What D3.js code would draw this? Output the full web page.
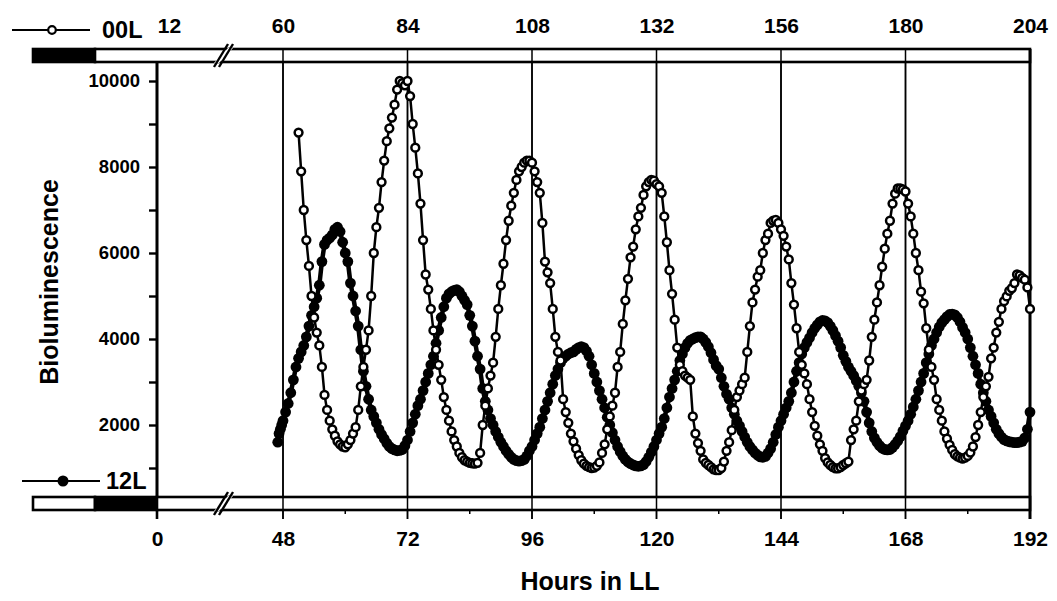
<!DOCTYPE html>
<html>
<head>
<meta charset="utf-8">
<script src="https://cdn.jsdelivr.net/npm/d3@7"></script>
<style>
  body { margin: 0; background: #fff; }
  svg { display: block; }
  text { font-family: "Liberation Sans", Arial, Helvetica, sans-serif; fill: #000; }
</style>
</head>
<body>
<svg id="chart"></svg>
<script>
const width = 1057;
const height = 601;

// sampling: one reading every half hour
const stepHours = 0.5;
const openStart = 51;   // 00L, open circles
const filledStart = 46; // 12L, filled circles

// 00L bioluminescence, t = 51 .. 192 (10 values = 5 h per row)
const openValues = [
  8800, 7900, 7000, 6300, 5700, 5000, 4500, 4150, 3850, 3350,
  2700, 2350, 2100, 1900, 1750, 1620, 1550, 1500, 1480, 1550,
  1650, 1800, 1950, 2350, 2900, 3350, 3750, 4200, 5000, 6000,
  6600, 7050, 7650, 8150, 8600, 8900, 9150, 9450, 9800, 10000,
  9950, 9900, 10000, 9650, 9000, 8450, 7850, 7150, 6300, 5500,
  5150, 4700, 4200, 3750, 3400, 3050, 2650, 2350, 2100, 1850,
  1650, 1500, 1350, 1250, 1180, 1150, 1120, 1110, 1100, 1120,
  1350, 2000, 2450, 2850, 3150, 3450, 4050, 4700, 5250, 5750,
  6300, 6750, 7100, 7400, 7700, 7900, 8000, 8100, 8150, 8150,
  8100, 7900, 7650, 7400, 6700, 5800, 5550, 5300, 4700, 4050,
  3700, 3500, 2600, 2300, 2050, 1800, 1620, 1450, 1300, 1180,
  1100, 1050, 1020, 1000, 1010, 1050, 1130, 1350, 1550, 1900,
  2200, 2450, 2750, 3350, 3700, 4350, 4900, 5400, 5900, 6150,
  6550, 6850, 7050, 7350, 7550, 7650, 7700, 7680, 7600, 7550,
  7400, 6850, 6250, 5600, 5050, 4450, 3800, 3400, 3250, 3150,
  3100, 3050, 2200, 1800, 1580, 1400, 1200, 1120, 1070, 1020,
  970, 950, 950, 1000, 1150, 1400, 1600, 1880, 2350, 2650,
  2800, 2950, 3100, 3700, 4300, 4850, 5150, 5450, 5600, 6000,
  6300, 6450, 6700, 6750, 6770, 6700, 6550, 6400, 6150, 5850,
  5300, 4800, 4250, 3700, 3400, 3200, 2950, 2600, 2300, 1980,
  1750, 1550, 1400, 1230, 1130, 1070, 1020, 990, 990, 1020,
  1070, 1110, 1150, 1650, 1900, 2100, 2550, 2800, 2950, 3050,
  3500, 4050, 4450, 4850, 5250, 5680, 6100, 6450, 6750, 7150,
  7380, 7500, 7500, 7480, 7430, 7150, 6850, 6450, 6000, 5600,
  5100, 4830, 4250, 3750, 3350, 3050, 2600, 2350, 2100, 1850,
  1680, 1540, 1420, 1320, 1270, 1240, 1220, 1240, 1280, 1360,
  1500, 1720, 2000, 2300, 2650, 2900, 3120, 3550, 3800, 4150,
  4400, 4700, 4880, 4990, 5120, 5180, 5300, 5500, 5480, 5420,
  5380, 5200, 4700
];

// 12L bioluminescence, t = 46 .. 192
const filledValues = [
  1600, 1800, 1900, 2000, 2100, 2300, 2500, 2750, 3050, 3350,
  3550, 3700, 3850, 4050, 4300, 4550, 4750, 4950, 5250, 5800,
  6200, 6300, 6350, 6420, 6550, 6600, 6500, 6250, 6000, 5800,
  5300, 5000, 4650, 4300, 3750, 3250, 2900, 2600, 2350, 2200,
  2050, 1900, 1780, 1680, 1580, 1500, 1450, 1420, 1400, 1410,
  1430, 1520, 1650, 1850, 2050, 2250, 2450, 2600, 2800, 3000,
  3200, 3400, 3600, 3900, 4200, 4500, 4750, 4950, 5050, 5100,
  5130, 5150, 5100, 5000, 4900, 4800, 4550, 4300, 3950, 3600,
  3300, 2850, 2550, 2350, 2150, 2000, 1850, 1720, 1600, 1500,
  1400, 1320, 1250, 1200, 1170, 1160, 1170, 1200, 1280, 1400,
  1500, 1650, 1800, 1950, 2150, 2350, 2550, 2750, 2950, 3150,
  3300, 3450, 3550, 3600, 3650, 3680, 3700, 3760, 3800, 3820,
  3800, 3720, 3600, 3400, 3200, 3000, 2800, 2600, 2400, 2180,
  2000, 1820, 1650, 1500, 1380, 1280, 1200, 1140, 1100, 1070,
  1050, 1040, 1050, 1080, 1150, 1250, 1370, 1500, 1650, 1800,
  1950, 2150, 2400, 2650, 2850, 3050, 3250, 3500, 3650, 3800,
  3900, 3970, 4000, 4030, 4050, 4050, 4000, 3920, 3820, 3680,
  3520, 3380, 3300, 3100, 2900, 2720, 2600, 2400, 2250, 2100,
  1980, 1850, 1720, 1600, 1500, 1420, 1350, 1300, 1260, 1250,
  1270, 1350, 1450, 1600, 1780, 1950, 2100, 2250, 2400, 2550,
  2750, 3000, 3250, 3450, 3650, 3800, 3920, 4030, 4150, 4250,
  4330, 4400, 4430, 4420, 4380, 4300, 4200, 4080, 3950, 3800,
  3620, 3480, 3350, 3250, 3150, 3030, 2900, 2750, 2550, 2300,
  2050, 1850, 1700, 1600, 1520, 1460, 1430, 1420, 1430, 1480,
  1550, 1630, 1730, 1860, 1980, 2100, 2250, 2420, 2600, 2800,
  3000, 3200, 3450, 3650, 3850, 4000, 4150, 4280, 4380, 4450,
  4520, 4570, 4580, 4560, 4500, 4400, 4270, 4150, 4000, 3800,
  3600, 3400, 3200, 2950, 2750, 2550, 2350, 2200, 2050, 1900,
  1800, 1720, 1660, 1630, 1610, 1600, 1590, 1590, 1600, 1620,
  1700, 1900, 2300
];

const bottomTicks = [0, 48, 72, 96, 120, 144, 168, 192];
const minorTicks = [60, 84, 108, 132, 156, 180];
const topOffset = 12; // top scale reads bottom + 12 h
const yTicks = [1000, 2000, 3000, 4000, 5000, 6000, 7000, 8000, 9000, 10000];
const yLabelEvery = 2000;

// light/dark bars in hours (bottom scale): [start, end, dark?]
const topBar = [[-24, -12, true], [-12, 192, false]];
const bottomBar = [[-24, -12, false], [-12, 0, true], [0, 192, false]];

const svg = d3.select("#chart").attr("width", width).attr("height", height);

// broken time axis: 0..48 squeezed into the same space as ~24 h
const x = d3.scaleLinear()
  .domain([-24, 0, 48, 192])
  .range([33, 157, 283, 1030]);

const y = d3.scaleLinear()
  .domain([0, 10000])
  .range([511, 81]);

const plotTop = 62;
const plotBottom = 497;
const topBarY = [49, 62];
const bottomBarY = [497, 510];
const breakX = 221;
const font = '"Liberation Sans", Arial, sans-serif';

// vertical hour lines
svg.selectAll(".hourLine")
  .data(bottomTicks)
  .join("line")
  .attr("class", "hourLine")
  .attr("x1", (d) => x(d))
  .attr("x2", (d) => x(d))
  .attr("y1", topBarY[0])
  .attr("y2", bottomBarY[1] + 9)
  .attr("stroke", "#000")
  .attr("stroke-width", (d) => (d === 0 || d === 192 ? 2.6 : 1.5));

// minor ticks under the bottom bar
svg.selectAll(".minorTick")
  .data(minorTicks)
  .join("line")
  .attr("class", "minorTick")
  .attr("x1", (d) => x(d))
  .attr("x2", (d) => x(d))
  .attr("y1", bottomBarY[1])
  .attr("y2", bottomBarY[1] + 4)
  .attr("stroke", "#000")
  .attr("stroke-width", 1.5);

// light/dark bars
const drawBar = (segments, yy, cls) => {
  svg.selectAll("." + cls)
    .data(segments)
    .join("rect")
    .attr("class", cls)
    .attr("x", (d) => x(d[0]))
    .attr("y", yy[0])
    .attr("width", (d) => x(d[1]) - x(d[0]))
    .attr("height", yy[1] - yy[0])
    .attr("fill", (d) => (d[2] ? "#000" : "#fff"))
    .attr("stroke", "#000")
    .attr("stroke-width", 2.6);
};
drawBar(topBar, topBarY, "topBar");
drawBar(bottomBar, bottomBarY, "bottomBar");

// hour lines again, across the white bars
svg.selectAll(".hourLineBar")
  .data(bottomTicks.filter((d) => d !== 0))
  .join("line")
  .attr("class", "hourLineBar")
  .attr("x1", (d) => x(d))
  .attr("x2", (d) => x(d))
  .attr("y1", topBarY[0])
  .attr("y2", bottomBarY[1] + 9)
  .attr("stroke", "#000")
  .attr("stroke-width", (d) => (d === 192 ? 2.6 : 1.5));

// axis break marks "//"
const drawBreak = (y0, y1) => {
  const g = svg.append("g");
  const slant = 7;
  g.append("polygon")
    .attr("points", `${breakX - slant},${y1 + 1} ${breakX + slant},${y0 - 1} ${breakX + slant + 5},${y0 - 1} ${breakX - slant + 5},${y1 + 1}`)
    .attr("fill", "#fff");
  [0, 5].forEach((dx) => {
    g.append("line")
      .attr("x1", breakX - slant + dx)
      .attr("y1", y1 + 5)
      .attr("x2", breakX + slant + dx)
      .attr("y2", y0 - 5)
      .attr("stroke", "#000")
      .attr("stroke-width", 2.4);
  });
};
drawBreak(topBarY[0], topBarY[1]);
drawBreak(bottomBarY[0], bottomBarY[1]);

// y axis line
svg.append("line")
  .attr("x1", x(0))
  .attr("x2", x(0))
  .attr("y1", plotTop)
  .attr("y2", plotBottom)
  .attr("stroke", "#000")
  .attr("stroke-width", 2.6);

const yAxis = svg.append("g")
  .attr("transform", `translate(${x(0)},0)`)
  .call(
    d3.axisLeft(y)
      .tickValues(yTicks)
      .tickSize(8)
      .tickPadding(9)
      .tickFormat((d) => (d % yLabelEvery === 0 ? d : ""))
  );
yAxis.select(".domain").remove();
yAxis.selectAll("line").attr("stroke-width", 2.4);
yAxis.selectAll("text")
  .attr("font-family", font)
  .attr("font-size", 18.5)
  .attr("font-weight", "bold");

// bottom time axis labels
const xAxis = svg.append("g")
  .attr("transform", `translate(0,${bottomBarY[1]})`)
  .call(
    d3.axisBottom(x)
      .tickValues(bottomTicks)
      .tickSize(0)
      .tickPadding(21)
      .tickFormat(d3.format("d"))
  );
xAxis.select(".domain").remove();
xAxis.selectAll("text")
  .attr("font-family", font)
  .attr("font-size", 21)
  .attr("font-weight", "bold");

// top time axis labels (bottom + 12 h)
const x2Axis = svg.append("g")
  .attr("transform", `translate(0,${topBarY[0]})`)
  .call(
    d3.axisTop(x)
      .tickValues(bottomTicks)
      .tickSize(0)
      .tickPadding(16)
      .tickFormat((d) => d + topOffset)
  );
x2Axis.select(".domain").remove();
x2Axis.selectAll("text")
  .attr("font-family", font)
  .attr("font-size", 21)
  .attr("font-weight", "bold")
  .attr("dx", (d) => (d === 0 ? 12 : 0));

// series
const openData = openValues.map((v, i) => ({ t: openStart + i * stepHours, v }));
const filledData = filledValues.map((v, i) => ({ t: filledStart + i * stepHours, v }));

const line = d3.line()
  .x((d) => x(d.t))
  .y((d) => y(d.v));

svg.append("path")
  .datum(filledData)
  .attr("d", line)
  .attr("fill", "none")
  .attr("stroke", "#000")
  .attr("stroke-width", 4.5)
  .attr("stroke-linejoin", "round");

svg.selectAll(".filledDot")
  .data(filledData)
  .join("circle")
  .attr("class", "filledDot")
  .attr("cx", (d) => x(d.t))
  .attr("cy", (d) => y(d.v))
  .attr("r", 5.4)
  .attr("fill", "#000");

svg.append("path")
  .datum(openData)
  .attr("d", line)
  .attr("fill", "none")
  .attr("stroke", "#000")
  .attr("stroke-width", 2.5);

svg.selectAll(".openDot")
  .data(openData)
  .join("circle")
  .attr("class", "openDot")
  .attr("cx", (d) => x(d.t))
  .attr("cy", (d) => y(d.v))
  .attr("r", 3.9)
  .attr("fill", "#fff")
  .attr("stroke", "#000")
  .attr("stroke-width", 2.5);

// legends
const legend = svg.append("g");
legend.append("line")
  .attr("x1", 12).attr("x2", 90).attr("y1", 30).attr("y2", 30)
  .attr("stroke", "#000").attr("stroke-width", 2.2);
legend.append("circle")
  .attr("cx", 52).attr("cy", 30).attr("r", 3.8)
  .attr("fill", "#fff").attr("stroke", "#000").attr("stroke-width", 2.2);
legend.append("text")
  .attr("x", 102).attr("y", 38)
  .attr("font-size", 23.5).attr("font-weight", "bold")
  .text("00L");

legend.append("line")
  .attr("x1", 22).attr("x2", 100).attr("y1", 481).attr("y2", 481)
  .attr("stroke", "#000").attr("stroke-width", 2.2);
legend.append("circle")
  .attr("cx", 63).attr("cy", 481).attr("r", 5.5)
  .attr("fill", "#000");
legend.append("text")
  .attr("x", 106).attr("y", 489)
  .attr("font-size", 23.5).attr("font-weight", "bold")
  .text("12L");

// axis titles
svg.append("text")
  .attr("x", 590)
  .attr("y", 590)
  .attr("text-anchor", "middle")
  .attr("font-size", 25)
  .attr("font-weight", "bold")
  .text("Hours in LL");

svg.append("text")
  .attr("transform", `translate(58,282) rotate(-90)`)
  .attr("text-anchor", "middle")
  .attr("font-size", 25)
  .attr("font-weight", "bold")
  .text("Bioluminescence");
</script>
</body>
</html>
